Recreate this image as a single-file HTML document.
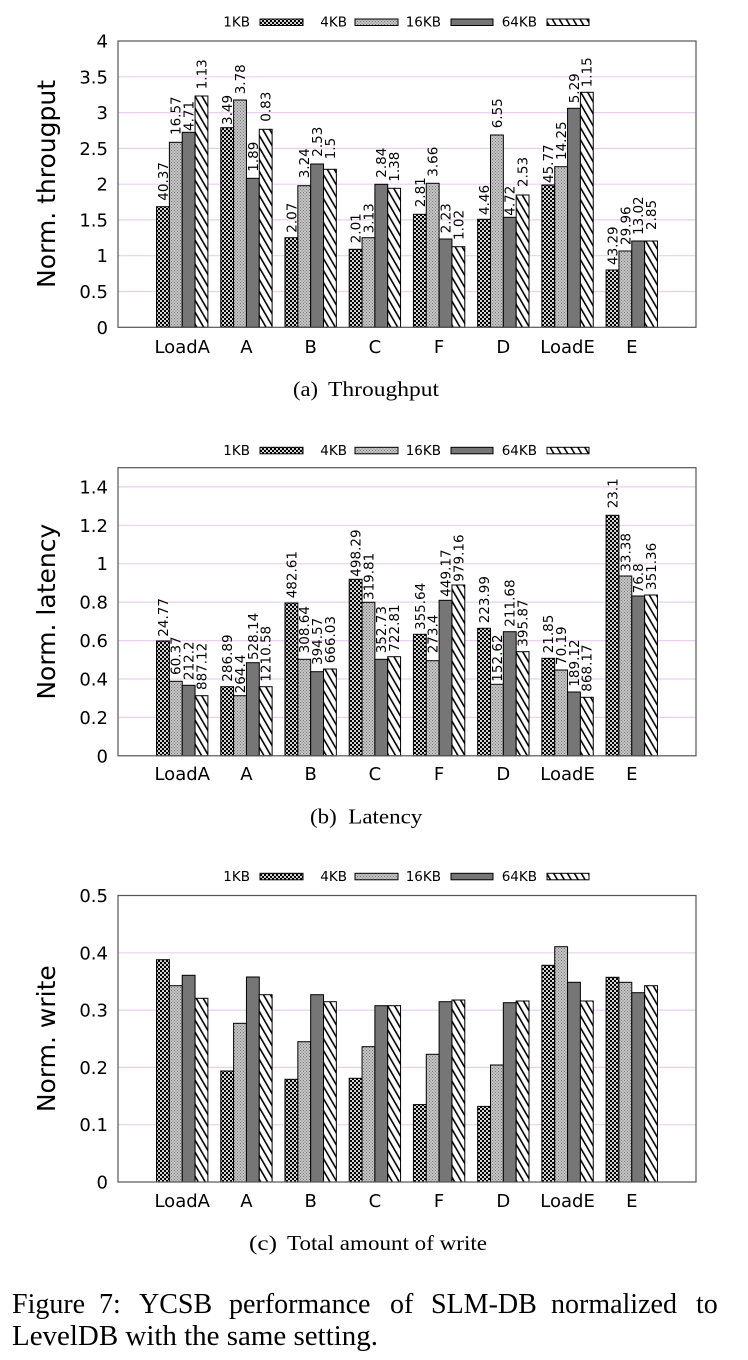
<!DOCTYPE html>
<html>
<head>
<meta charset="utf-8">
<style>
html,body{margin:0;padding:0;background:#fff;}
svg{display:block;}
.t{font-family:"DejaVu Sans","Liberation Sans",sans-serif;fill:#000;}
.tk{font-size:18px;text-anchor:end;}
.xl{font-size:18px;text-anchor:middle;}
.yt{font-size:25px;text-anchor:middle;}
.lg{font-size:13.5px;text-anchor:end;}
.lb{font-size:13.5px;}
.s{font-family:"Liberation Serif","Times New Roman",serif;fill:#000;}
.a{fill:url(#p1);stroke:#000;stroke-width:1;}
.b{fill:url(#p2);stroke:#000;stroke-width:1;}
.c{fill:#767676;stroke:#000;stroke-width:1;}
.d{fill:url(#p4);stroke:#000;stroke-width:1;}
.g{stroke:#ead0f0;stroke-width:1.2;}
.fr{fill:none;stroke:#555;stroke-width:1.2;}
</style>
</head>
<body>
<svg width="748" height="1360" viewBox="0 0 748 1360" xmlns="http://www.w3.org/2000/svg">
<defs>
<pattern id="p1" width="4" height="4" patternUnits="userSpaceOnUse"><rect width="4" height="4" fill="#000"/><circle cx="1" cy="1" r="1.05" fill="#fff"/><circle cx="3" cy="3" r="1.05" fill="#fff"/></pattern>
<pattern id="p2" width="3" height="3" patternUnits="userSpaceOnUse"><rect width="3" height="3" fill="#c4c4c4"/><rect width="1" height="1" fill="#7a7a7a"/><rect x="1.5" y="1.5" width="1" height="1" fill="#7a7a7a"/></pattern>
<pattern id="p4" width="6" height="10" patternUnits="userSpaceOnUse" patternTransform="rotate(-30)"><rect width="6" height="10" fill="#fff"/><rect width="1.6" height="10" fill="#000"/></pattern>
</defs>
<rect width="748" height="1360" fill="#fff"/>

<!-- ================= CHART 1 ================= -->
<g class="t lg">
<text x="250" y="26.7">1KB</text><text x="347" y="26.7">4KB</text><text x="441" y="26.7">16KB</text><text x="537" y="26.7">64KB</text>
</g>
<rect class="a" x="260" y="19" width="43" height="6.5"/>
<rect class="b" x="355" y="19" width="43" height="6.5"/>
<rect class="c" x="451" y="19" width="42" height="6.5"/>
<rect class="d" x="547" y="19" width="42" height="6.5"/>

<line class="g" x1="118" x2="696" y1="291.5" y2="291.5"/>
<line class="g" x1="118" x2="696" y1="255.7" y2="255.7"/>
<line class="g" x1="118" x2="696" y1="219.9" y2="219.9"/>
<line class="g" x1="118" x2="696" y1="184.2" y2="184.2"/>
<line class="g" x1="118" x2="696" y1="148.4" y2="148.4"/>
<line class="g" x1="118" x2="696" y1="112.6" y2="112.6"/>
<line class="g" x1="118" x2="696" y1="76.8" y2="76.8"/>

<g class="t tk">
<text x="108" y="333.8">0</text><text x="108" y="298">0.5</text><text x="108" y="262.2">1</text><text x="108" y="226.4">1.5</text><text x="108" y="190.7">2</text><text x="108" y="154.9">2.5</text><text x="108" y="119.1">3</text><text x="108" y="83.3">3.5</text><text x="108" y="47.5">4</text>
</g>
<text class="t yt" transform="translate(55,184) rotate(-90)">Norm. througput</text>

<rect class="a" x="156.54" y="206.7" width="12.84" height="120.6"/><rect class="b" x="169.38" y="142.3" width="12.84" height="185"/><rect class="c" x="182.22" y="132.3" width="12.84" height="195"/><rect class="d" x="195.06" y="96" width="12.84" height="231.3"/>
<rect class="a" x="220.76" y="127.7" width="12.84" height="199.6"/><rect class="b" x="233.6" y="100" width="12.84" height="227.3"/><rect class="c" x="246.44" y="178.3" width="12.84" height="149"/><rect class="d" x="259.28" y="129.3" width="12.84" height="198"/>
<rect class="a" x="284.99" y="237.7" width="12.84" height="89.6"/><rect class="b" x="297.83" y="185.7" width="12.84" height="141.6"/><rect class="c" x="310.67" y="164" width="12.84" height="163.3"/><rect class="d" x="323.51" y="169.3" width="12.84" height="158"/>
<rect class="a" x="349.21" y="249.3" width="12.84" height="78"/><rect class="b" x="362.05" y="237.7" width="12.84" height="89.6"/><rect class="c" x="374.89" y="184.3" width="12.84" height="143"/><rect class="d" x="387.73" y="188.3" width="12.84" height="139"/>
<rect class="a" x="413.43" y="214.3" width="12.84" height="113"/><rect class="b" x="426.27" y="183.3" width="12.84" height="144"/><rect class="c" x="439.11" y="239" width="12.84" height="88.3"/><rect class="d" x="451.95" y="246.7" width="12.84" height="80.6"/>
<rect class="a" x="477.65" y="219.3" width="12.84" height="108"/><rect class="b" x="490.49" y="135" width="12.84" height="192.3"/><rect class="c" x="503.33" y="217.3" width="12.84" height="110"/><rect class="d" x="516.17" y="195" width="12.84" height="132.3"/>
<rect class="a" x="541.88" y="185" width="12.84" height="142.3"/><rect class="b" x="554.72" y="166.7" width="12.84" height="160.6"/><rect class="c" x="567.56" y="108.3" width="12.84" height="219"/><rect class="d" x="580.4" y="92.3" width="12.84" height="235"/>
<rect class="a" x="606.1" y="270" width="12.84" height="57.3"/><rect class="b" x="618.94" y="251" width="12.84" height="76.3"/><rect class="c" x="631.78" y="241" width="12.84" height="86.3"/><rect class="d" x="644.62" y="241" width="12.84" height="86.3"/>

<rect class="fr" x="118" y="41" width="578" height="286.3"/>

<g class="t lb">
<text transform="translate(167.86,200.7) rotate(-90)">40.37</text><text transform="translate(180.7,135) rotate(-90)">16.57</text><text transform="translate(193.54,131) rotate(-90)">4.71</text><text transform="translate(206.38,89.3) rotate(-90)">1.13</text>
<text transform="translate(232.08,125) rotate(-90)">3.49</text><text transform="translate(244.92,94.3) rotate(-90)">3.78</text><text transform="translate(257.76,171.7) rotate(-90)">1.89</text><text transform="translate(270.6,121.7) rotate(-90)">0.83</text>
<text transform="translate(296.31,232.7) rotate(-90)">2.07</text><text transform="translate(309.15,178.3) rotate(-90)">3.24</text><text transform="translate(321.99,156.7) rotate(-90)">2.53</text><text transform="translate(334.83,159.3) rotate(-90)">1.5</text>
<text transform="translate(360.53,243.3) rotate(-90)">2.01</text><text transform="translate(373.37,233.3) rotate(-90)">3.13</text><text transform="translate(386.21,177.7) rotate(-90)">2.84</text><text transform="translate(399.05,181.7) rotate(-90)">1.38</text>
<text transform="translate(424.75,207.3) rotate(-90)">2.81</text><text transform="translate(437.59,176.7) rotate(-90)">3.66</text><text transform="translate(450.43,233.3) rotate(-90)">2.23</text><text transform="translate(463.27,240) rotate(-90)">1.02</text>
<text transform="translate(488.97,215) rotate(-90)">4.46</text><text transform="translate(501.81,128.3) rotate(-90)">6.55</text><text transform="translate(514.65,215.7) rotate(-90)">4.72</text><text transform="translate(527.49,187) rotate(-90)">2.53</text>
<text transform="translate(553.2,183) rotate(-90)">45.77</text><text transform="translate(566.04,160) rotate(-90)">14.25</text><text transform="translate(578.88,103.3) rotate(-90)">5.29</text><text transform="translate(591.72,87.3) rotate(-90)">1.15</text>
<text transform="translate(617.42,265) rotate(-90)">43.29</text><text transform="translate(630.26,245) rotate(-90)">29.96</text><text transform="translate(643.1,235) rotate(-90)">13.02</text><text transform="translate(655.94,230) rotate(-90)">2.85</text>
</g>

<g class="t xl">
<text x="182.22" y="353">LoadA</text><text x="246.44" y="353">A</text><text x="310.67" y="353">B</text><text x="374.89" y="353">C</text><text x="439.11" y="353">F</text><text x="503.33" y="353">D</text><text x="567.56" y="353">LoadE</text><text x="631.78" y="353">E</text>
</g>

<text class="s" x="293" y="396" font-size="21" textLength="25" lengthAdjust="spacingAndGlyphs">(a)</text>
<text class="s" x="328" y="396" font-size="21" textLength="111" lengthAdjust="spacingAndGlyphs">Throughput</text>

<!-- ================= CHART 2 ================= -->
<g class="t lg">
<text x="250" y="455">1KB</text><text x="347" y="455">4KB</text><text x="441" y="455">16KB</text><text x="537" y="455">64KB</text>
</g>
<rect class="a" x="260" y="447.3" width="43" height="6.5"/>
<rect class="b" x="355" y="447.3" width="43" height="6.5"/>
<rect class="c" x="451" y="447.3" width="42" height="6.5"/>
<rect class="d" x="547" y="447.3" width="42" height="6.5"/>

<line class="g" x1="118" x2="696" y1="717.4" y2="717.4"/>
<line class="g" x1="118" x2="696" y1="679" y2="679"/>
<line class="g" x1="118" x2="696" y1="640.6" y2="640.6"/>
<line class="g" x1="118" x2="696" y1="602.1" y2="602.1"/>
<line class="g" x1="118" x2="696" y1="563.7" y2="563.7"/>
<line class="g" x1="118" x2="696" y1="525.3" y2="525.3"/>
<line class="g" x1="118" x2="696" y1="486.9" y2="486.9"/>

<g class="t tk">
<text x="108" y="762.3">0</text><text x="108" y="723.9">0.2</text><text x="108" y="685.5">0.4</text><text x="108" y="647.1">0.6</text><text x="108" y="608.6">0.8</text><text x="108" y="570.2">1</text><text x="108" y="531.8">1.2</text><text x="108" y="493.4">1.4</text>
</g>
<text class="t yt" transform="translate(55,611.7) rotate(-90)">Norm. latency</text>

<rect class="a" x="156.54" y="641" width="12.84" height="114.8"/><rect class="b" x="169.38" y="681.3" width="12.84" height="74.5"/><rect class="c" x="182.22" y="685.3" width="12.84" height="70.5"/><rect class="d" x="195.06" y="695.7" width="12.84" height="60.1"/>
<rect class="a" x="220.76" y="686.7" width="12.84" height="69.1"/><rect class="b" x="233.6" y="695.7" width="12.84" height="60.1"/><rect class="c" x="246.44" y="662.7" width="12.84" height="93.1"/><rect class="d" x="259.28" y="686.7" width="12.84" height="69.1"/>
<rect class="a" x="284.99" y="603" width="12.84" height="152.8"/><rect class="b" x="297.83" y="659.3" width="12.84" height="96.5"/><rect class="c" x="310.67" y="671.7" width="12.84" height="84.1"/><rect class="d" x="323.51" y="669" width="12.84" height="86.8"/>
<rect class="a" x="349.21" y="579.3" width="12.84" height="176.5"/><rect class="b" x="362.05" y="602.3" width="12.84" height="153.5"/><rect class="c" x="374.89" y="659.3" width="12.84" height="96.5"/><rect class="d" x="387.73" y="656.7" width="12.84" height="99.1"/>
<rect class="a" x="413.43" y="634.3" width="12.84" height="121.5"/><rect class="b" x="426.27" y="660.7" width="12.84" height="95.1"/><rect class="c" x="439.11" y="600.3" width="12.84" height="155.5"/><rect class="d" x="451.95" y="585" width="12.84" height="170.8"/>
<rect class="a" x="477.65" y="628.3" width="12.84" height="127.5"/><rect class="b" x="490.49" y="684.3" width="12.84" height="71.5"/><rect class="c" x="503.33" y="631.7" width="12.84" height="124.1"/><rect class="d" x="516.17" y="651.7" width="12.84" height="104.1"/>
<rect class="a" x="541.88" y="658.3" width="12.84" height="97.5"/><rect class="b" x="554.72" y="670" width="12.84" height="85.8"/><rect class="c" x="567.56" y="692" width="12.84" height="63.8"/><rect class="d" x="580.4" y="697.3" width="12.84" height="58.5"/>
<rect class="a" x="606.1" y="515.3" width="12.84" height="240.5"/><rect class="b" x="618.94" y="576" width="12.84" height="179.8"/><rect class="c" x="631.78" y="596" width="12.84" height="159.8"/><rect class="d" x="644.62" y="595" width="12.84" height="160.8"/>

<rect class="fr" x="118" y="467.7" width="578" height="288.1"/>

<g class="t lb">
<text transform="translate(167.86,636.7) rotate(-90)">24.77</text><text transform="translate(180.7,675) rotate(-90)">60.37</text><text transform="translate(193.54,680) rotate(-90)">212.2</text><text transform="translate(206.38,690) rotate(-90)">887.12</text>
<text transform="translate(232.08,681.7) rotate(-90)">286.89</text><text transform="translate(244.92,693.3) rotate(-90)">264.4</text><text transform="translate(257.76,660) rotate(-90)">528.14</text><text transform="translate(270.6,681.7) rotate(-90)">1210.58</text>
<text transform="translate(296.31,598.3) rotate(-90)">482.61</text><text transform="translate(309.15,653.3) rotate(-90)">308.64</text><text transform="translate(321.99,665) rotate(-90)">394.57</text><text transform="translate(334.83,663.3) rotate(-90)">666.03</text>
<text transform="translate(360.53,576.7) rotate(-90)">498.29</text><text transform="translate(373.37,600) rotate(-90)">319.81</text><text transform="translate(386.21,653.3) rotate(-90)">352.73</text><text transform="translate(399.05,651.7) rotate(-90)">722.81</text>
<text transform="translate(424.75,630) rotate(-90)">355.64</text><text transform="translate(437.59,653.3) rotate(-90)">273.4</text><text transform="translate(450.43,596.7) rotate(-90)">449.17</text><text transform="translate(463.27,581.7) rotate(-90)">979.16</text>
<text transform="translate(488.97,623.3) rotate(-90)">223.99</text><text transform="translate(501.81,681.7) rotate(-90)">152.62</text><text transform="translate(514.65,626.7) rotate(-90)">211.68</text><text transform="translate(527.49,646.7) rotate(-90)">395.87</text>
<text transform="translate(553.2,653.3) rotate(-90)">21.85</text><text transform="translate(566.04,665) rotate(-90)">70.19</text><text transform="translate(578.88,686.7) rotate(-90)">189.12</text><text transform="translate(591.72,691.7) rotate(-90)">868.17</text>
<text transform="translate(617.42,508.3) rotate(-90)">23.1</text><text transform="translate(630.26,571.7) rotate(-90)">33.38</text><text transform="translate(643.1,593.3) rotate(-90)">76.8</text><text transform="translate(655.94,590) rotate(-90)">351.36</text>
</g>

<g class="t xl">
<text x="182.22" y="780">LoadA</text><text x="246.44" y="780">A</text><text x="310.67" y="780">B</text><text x="374.89" y="780">C</text><text x="439.11" y="780">F</text><text x="503.33" y="780">D</text><text x="567.56" y="780">LoadE</text><text x="631.78" y="780">E</text>
</g>

<text class="s" x="310" y="823.3" font-size="21" textLength="26.7" lengthAdjust="spacingAndGlyphs">(b)</text>
<text class="s" x="348.3" y="823.3" font-size="21" textLength="74" lengthAdjust="spacingAndGlyphs">Latency</text>

<!-- ================= CHART 3 ================= -->
<g class="t lg">
<text x="250" y="881">1KB</text><text x="347" y="881">4KB</text><text x="441" y="881">16KB</text><text x="537" y="881">64KB</text>
</g>
<rect class="a" x="260" y="873.3" width="43" height="6.5"/>
<rect class="b" x="355" y="873.3" width="43" height="6.5"/>
<rect class="c" x="451" y="873.3" width="42" height="6.5"/>
<rect class="d" x="547" y="873.3" width="42" height="6.5"/>

<line class="g" x1="118" x2="696" y1="1124.7" y2="1124.7"/>
<line class="g" x1="118" x2="696" y1="1067.4" y2="1067.4"/>
<line class="g" x1="118" x2="696" y1="1010.1" y2="1010.1"/>
<line class="g" x1="118" x2="696" y1="952.8" y2="952.8"/>

<g class="t tk">
<text x="108" y="1188.5">0</text><text x="108" y="1131.2">0.1</text><text x="108" y="1073.9">0.2</text><text x="108" y="1016.6">0.3</text><text x="108" y="959.3">0.4</text><text x="108" y="902">0.5</text>
</g>
<text class="t yt" transform="translate(55,1038.7) rotate(-90)">Norm. write</text>

<rect class="a" x="156.54" y="959.7" width="12.84" height="222.3"/><rect class="b" x="169.38" y="985.7" width="12.84" height="196.3"/><rect class="c" x="182.22" y="975.3" width="12.84" height="206.7"/><rect class="d" x="195.06" y="998.3" width="12.84" height="183.7"/>
<rect class="a" x="220.76" y="1071" width="12.84" height="111"/><rect class="b" x="233.6" y="1023.3" width="12.84" height="158.7"/><rect class="c" x="246.44" y="977" width="12.84" height="205"/><rect class="d" x="259.28" y="994.7" width="12.84" height="187.3"/>
<rect class="a" x="284.99" y="1079.3" width="12.84" height="102.7"/><rect class="b" x="297.83" y="1041.7" width="12.84" height="140.3"/><rect class="c" x="310.67" y="994.7" width="12.84" height="187.3"/><rect class="d" x="323.51" y="1001.7" width="12.84" height="180.3"/>
<rect class="a" x="349.21" y="1078.3" width="12.84" height="103.7"/><rect class="b" x="362.05" y="1046.7" width="12.84" height="135.3"/><rect class="c" x="374.89" y="1005.7" width="12.84" height="176.3"/><rect class="d" x="387.73" y="1005.7" width="12.84" height="176.3"/>
<rect class="a" x="413.43" y="1104.6" width="12.84" height="77.4"/><rect class="b" x="426.27" y="1054.3" width="12.84" height="127.7"/><rect class="c" x="439.11" y="1001.7" width="12.84" height="180.3"/><rect class="d" x="451.95" y="1000" width="12.84" height="182"/>
<rect class="a" x="477.65" y="1106.4" width="12.84" height="75.6"/><rect class="b" x="490.49" y="1065" width="12.84" height="117"/><rect class="c" x="503.33" y="1002.7" width="12.84" height="179.3"/><rect class="d" x="516.17" y="1001" width="12.84" height="181"/>
<rect class="a" x="541.88" y="965.3" width="12.84" height="216.7"/><rect class="b" x="554.72" y="946.7" width="12.84" height="235.3"/><rect class="c" x="567.56" y="982.3" width="12.84" height="199.7"/><rect class="d" x="580.4" y="1001" width="12.84" height="181"/>
<rect class="a" x="606.1" y="977.3" width="12.84" height="204.7"/><rect class="b" x="618.94" y="982.3" width="12.84" height="199.7"/><rect class="c" x="631.78" y="992.7" width="12.84" height="189.3"/><rect class="d" x="644.62" y="985.7" width="12.84" height="196.3"/>

<rect class="fr" x="118" y="895.5" width="578" height="286.5"/>

<g class="t xl">
<text x="182.22" y="1207">LoadA</text><text x="246.44" y="1207">A</text><text x="310.67" y="1207">B</text><text x="374.89" y="1207">C</text><text x="439.11" y="1207">F</text><text x="503.33" y="1207">D</text><text x="567.56" y="1207">LoadE</text><text x="631.78" y="1207">E</text>
</g>

<text class="s" x="249" y="1250" font-size="21" textLength="28" lengthAdjust="spacingAndGlyphs">(c)</text>
<text class="s" x="287" y="1250" font-size="21" textLength="200" lengthAdjust="spacingAndGlyphs">Total amount of write</text>

<!-- ================= FIGURE CAPTION ================= -->
<g class="s" font-size="28">
<text x="12" y="1313">Figure</text>
<text x="99" y="1313">7:</text>
<text x="139" y="1313">YCSB</text>
<text x="229" y="1313">performance</text>
<text x="390" y="1313">of</text>
<text x="431" y="1313">SLM-DB</text>
<text x="551" y="1313">normalized</text>
<text x="696" y="1313">to</text>
<text x="12" y="1345" textLength="366" lengthAdjust="spacingAndGlyphs">LevelDB with the same setting.</text>
</g>
</svg>
</body>
</html>
